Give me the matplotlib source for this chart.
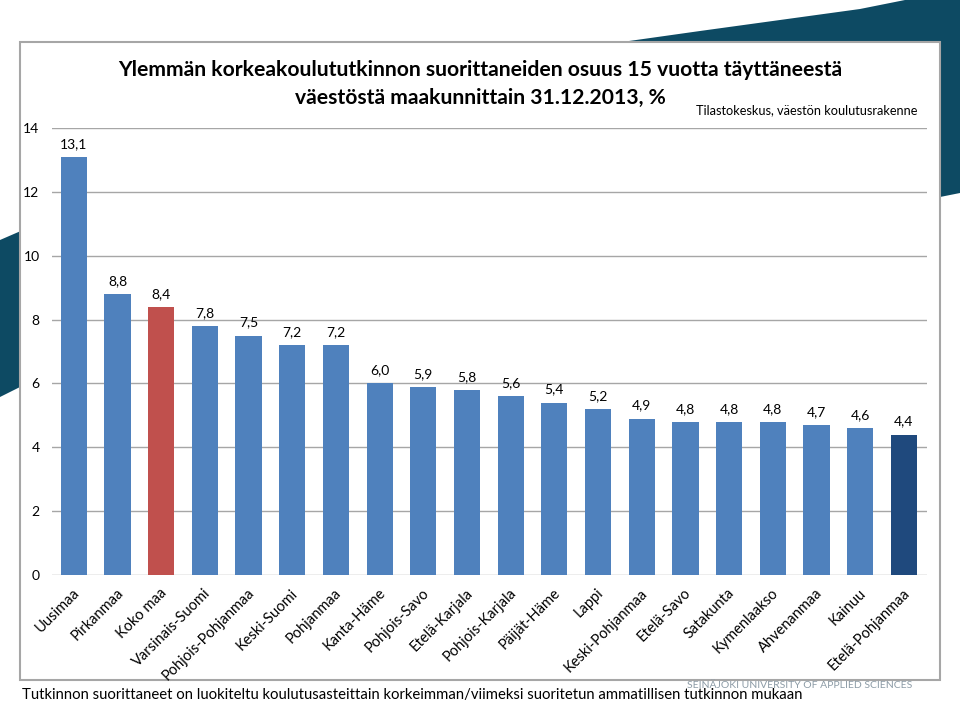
import matplotlib.pyplot as plt
from matplotlib.patches import Polygon, Rectangle

plt.rcParams['font.family'] = ['Lato', 'DejaVu Sans']

regions = ['Uusimaa', 'Pirkanmaa', 'Koko maa', 'Varsinais-Suomi', 'Pohjois-Pohjanmaa',
           'Keski-Suomi', 'Pohjanmaa', 'Kanta-Häme', 'Pohjois-Savo', 'Etelä-Karjala',
           'Pohjois-Karjala', 'Päijät-Häme', 'Lappi', 'Keski-Pohjanmaa', 'Etelä-Savo',
           'Satakunta', 'Kymenlaakso', 'Ahvenanmaa', 'Kainuu', 'Etelä-Pohjanmaa']
share = [13.1, 8.8, 8.4, 7.8, 7.5, 7.2, 7.2, 6.0, 5.9, 5.8,
         5.6, 5.4, 5.2, 4.9, 4.8, 4.8, 4.8, 4.7, 4.6, 4.4]
highlight = {'Koko maa': '#C0504D', 'Etelä-Pohjanmaa': '#1F497D'}
base_color = '#4F81BD'
teal = '#0D4A63'

fig = plt.figure(figsize=(9.6, 7.04), dpi=100)

# background decoration in pixel coordinates
bg = fig.add_axes([0, 0, 1, 1])
bg.set_xlim(0, 960)
bg.set_ylim(704, 0)
bg.axis('off')
bg.add_patch(Polygon([(600, 60), (622, 42), (700, 31), (780, 20), (860, 9), (905, 0),
                      (960, 0), (960, 193), (940, 197), (600, 240)],
                     closed=True, color=teal, lw=0))
bg.add_patch(Polygon([(0, 240), (30, 227), (30, 382), (0, 397)],
                     closed=True, color=teal, lw=0))
bg.add_patch(Rectangle((20, 42), 920, 638, facecolor='white', edgecolor='#A6A6A6', lw=1.5))

bg.text(480, 70, 'Ylemmän korkeakoulututkinnon suorittaneiden osuus 15 vuotta täyttäneestä',
        ha='center', va='center', fontsize=15.2, fontweight='bold', color='black')
bg.text(480, 98, 'väestöstä maakunnittain 31.12.2013, %',
        ha='center', va='center', fontsize=15.2, fontweight='bold', color='black')
bg.text(917, 110, 'Tilastokeskus, väestön koulutusrakenne',
        ha='right', va='center', fontsize=9.2, color='black')
bg.text(22, 695, 'Tutkinnon suorittaneet on luokiteltu koulutusasteittain '
        'korkeimman/viimeksi suoritetun ammatillisen tutkinnon mukaan',
        ha='left', va='center', fontsize=10.7, color='black')
bg.text(912, 685, 'SEINÄJOKI UNIVERSITY OF APPLIED SCIENCES',
        ha='right', va='center', fontsize=7.5, color='#8C9BA6')

ax = fig.add_axes([52 / 960, 1 - 575 / 704, 875 / 960, 447 / 704])
ax.patch.set_alpha(0)
x = list(range(len(regions)))
colors = [highlight.get(r, base_color) for r in regions]
bars = ax.bar(x, share, width=0.6, color=colors, zorder=3)
for xi, v in zip(x, share):
    ax.annotate(f'{v:.1f}'.replace('.', ','), (xi, v), xytext=(0, 5),
                textcoords='offset points', ha='center', va='bottom', fontsize=10)

ax.set_xlim(-0.5, 19.53)
ax.set_ylim(0, 14)
ax.set_yticks(range(0, 15, 2))
ax.tick_params(axis='y', length=0, labelsize=10, pad=9)
ax.set_xticks(x)
ax.set_xticklabels([])
for xi, r in zip(x, regions):
    ax.text(xi + 0.08, -0.5, r, rotation=45, rotation_mode='anchor',
            ha='right', va='center', fontsize=10.5)
ax.tick_params(axis='x', length=0)
ax.grid(axis='y', color='#A6A6A6', lw=1, zorder=0)
for s in ax.spines.values():
    s.set_visible(False)

fig.savefig('out.png', dpi=100)
